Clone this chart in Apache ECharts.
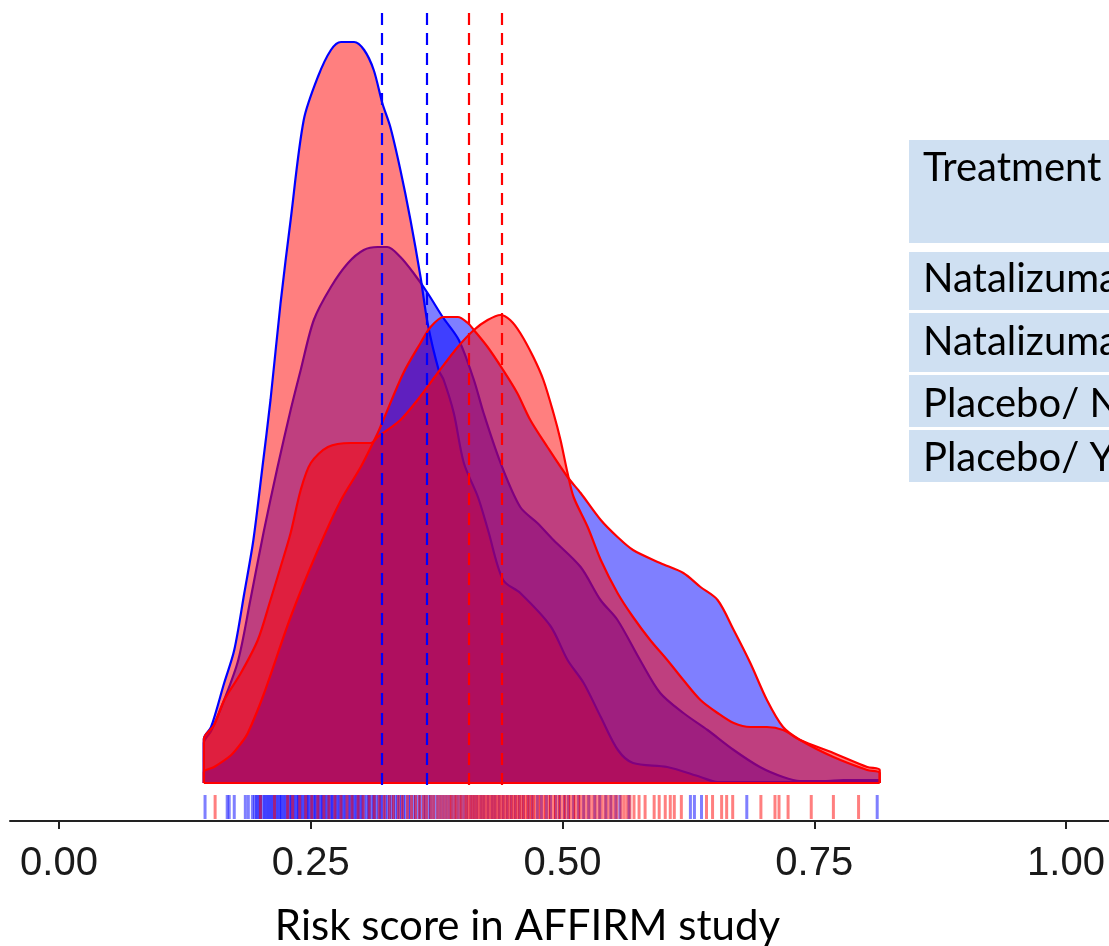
<!DOCTYPE html>
<html>
<head>
<meta charset="utf-8">
<script src="https://cdn.jsdelivr.net/npm/echarts@6/dist/echarts.min.js"></script>
<style>
  html, body { margin: 0; padding: 0; background: #fff; }
  #chart { width: 1109px; height: 946px; }
</style>
</head>
<body>
<div id="chart"></div>
<script>
(function() {
  const chart = echarts.init(document.getElementById('chart'));

  const xTicks = [0, 0.25, 0.5, 0.75, 1];

  // density curves [risk score, density]
  // red fill, blue outline (tall peak)
  const dens1 = [
    [0.1438, 0], [0.1438, 0.44], [0.151, 0.56], [0.164, 1.00], [0.174, 1.33], [0.184, 1.90],
    [0.193, 2.43], [0.202, 3.16], [0.210, 3.83], [0.220, 4.80], [0.230, 5.63], [0.243, 6.63],
    [0.257, 7.06], [0.270, 7.33], [0.280, 7.41], [0.293, 7.41], [0.303, 7.33], [0.3125, 7.13],
    [0.321, 6.80], [0.329, 6.56], [0.339, 6.13], [0.349, 5.63], [0.359, 5.06], [0.366, 4.60],
    [0.377, 4.13], [0.382, 4.03], [0.392, 3.70], [0.402, 3.20], [0.416, 2.86], [0.426, 2.53],
    [0.441, 2.03], [0.458, 1.90], [0.488, 1.57], [0.505, 1.23], [0.521, 1.00], [0.538, 0.66],
    [0.555, 0.33], [0.570, 0.20], [0.604, 0.16], [0.637, 0.06], [0.654, 0.01], [0.815, 0.01],
    [0.815, 0]
  ];
  // blue fill, blue outline
  const dens2 = [
    [0.1438, 0], [0.1438, 0.40], [0.151, 0.52], [0.164, 0.83], [0.178, 1.23], [0.190, 1.83],
    [0.203, 2.50], [0.217, 3.16], [0.230, 3.73], [0.240, 4.13], [0.253, 4.63], [0.270, 4.96],
    [0.287, 5.20], [0.3026, 5.33], [0.3165, 5.36], [0.326, 5.36], [0.339, 5.26], [0.352, 5.10],
    [0.366, 4.90], [0.381, 4.66], [0.397, 4.43], [0.412, 4.03], [0.4216, 3.70], [0.4385, 3.20],
    [0.458, 2.76], [0.475, 2.60], [0.491, 2.43], [0.518, 2.16], [0.5377, 1.83], [0.5546, 1.63],
    [0.577, 1.23], [0.597, 0.90], [0.620, 0.70], [0.644, 0.53], [0.670, 0.33], [0.696, 0.16],
    [0.719, 0.06], [0.736, 0.02], [0.760, 0.02], [0.779, 0.03], [0.815, 0.03], [0.815, 0]
  ];
  // blue fill, red outline (long right shoulder)
  const dens3 = [
    [0.1438, 0], [0.1438, 0.11], [0.154, 0.16], [0.171, 0.28], [0.181, 0.40], [0.1875, 0.50],
    [0.203, 0.88], [0.230, 1.66], [0.257, 2.33], [0.280, 2.83], [0.2996, 3.16], [0.3165, 3.50],
    [0.322, 3.63], [0.342, 4.10], [0.359, 4.40], [0.369, 4.56], [0.382, 4.66], [0.396, 4.66],
    [0.406, 4.60], [0.412, 4.53], [0.4256, 4.36], [0.441, 4.13], [0.455, 3.90], [0.468, 3.63],
    [0.485, 3.36], [0.505, 3.06], [0.518, 2.90], [0.538, 2.63], [0.5546, 2.46], [0.570, 2.33],
    [0.597, 2.20], [0.620, 2.10], [0.637, 1.96], [0.654, 1.83], [0.670, 1.53], [0.6865, 1.20],
    [0.703, 0.83], [0.719, 0.56], [0.736, 0.43], [0.769, 0.26], [0.8026, 0.13], [0.815, 0.10],
    [0.815, 0]
  ];
  // red fill, red outline (flat shoulder on the left)
  const dens4 = [
    [0.1438, 0], [0.1438, 0.44], [0.154, 0.58], [0.164, 0.83], [0.1806, 1.10], [0.1974, 1.43],
    [0.210, 1.83], [0.220, 2.16], [0.230, 2.50], [0.240, 2.93], [0.250, 3.20], [0.267, 3.36],
    [0.2897, 3.40], [0.3095, 3.40], [0.3165, 3.46], [0.339, 3.63], [0.356, 3.83], [0.376, 4.10],
    [0.396, 4.36], [0.412, 4.53], [0.4256, 4.63], [0.4385, 4.68], [0.448, 4.63], [0.458, 4.50],
    [0.471, 4.26], [0.481, 4.03], [0.491, 3.70], [0.498, 3.43], [0.505, 3.10], [0.511, 2.86],
    [0.525, 2.56], [0.538, 2.23], [0.5546, 1.90], [0.570, 1.66], [0.587, 1.43], [0.604, 1.23],
    [0.620, 1.03], [0.637, 0.83], [0.654, 0.70], [0.670, 0.60], [0.6865, 0.56], [0.703, 0.56],
    [0.719, 0.53], [0.736, 0.43], [0.769, 0.30], [0.8026, 0.16], [0.815, 0.13], [0.815, 0]
  ];
  const densRange = [0.1438, 0.815];

  // dashed reference lines
  const blueMeans = [0.3205, 0.365];
  const redMeans = [0.4065, 0.4396];

  // rug marks
  const blueRug = [
    0.145, 0.167, 0.169, 0.174, 0.185, 0.188, 0.192, 0.194, 0.196, 0.197, 0.199, 0.2, 0.202,
    0.204, 0.205, 0.207, 0.208, 0.21, 0.211, 0.213, 0.214, 0.216, 0.217, 0.219, 0.22, 0.221,
    0.223, 0.224, 0.226, 0.227, 0.229, 0.23, 0.231, 0.233, 0.234, 0.236, 0.237, 0.238, 0.24,
    0.241, 0.243, 0.244, 0.246, 0.247, 0.248, 0.25, 0.251, 0.253, 0.254, 0.255, 0.257, 0.258,
    0.26, 0.261, 0.262, 0.264, 0.265, 0.267, 0.268, 0.27, 0.271, 0.272, 0.274, 0.275, 0.277,
    0.278, 0.28, 0.281, 0.283, 0.284, 0.286, 0.288, 0.289, 0.291, 0.292, 0.294, 0.295, 0.297,
    0.298, 0.3, 0.301, 0.303, 0.305, 0.307, 0.308, 0.31, 0.312, 0.313, 0.315, 0.317, 0.319,
    0.32, 0.322, 0.324, 0.326, 0.328, 0.33, 0.332, 0.334, 0.336, 0.338, 0.34, 0.342, 0.344,
    0.347, 0.349, 0.352, 0.354, 0.357, 0.359, 0.362, 0.364, 0.367, 0.369, 0.372, 0.375, 0.378,
    0.381, 0.384, 0.387, 0.39, 0.393, 0.396, 0.399, 0.402, 0.405, 0.409, 0.412, 0.415, 0.419,
    0.422, 0.426, 0.43, 0.433, 0.437, 0.441, 0.445, 0.449, 0.453, 0.457, 0.461, 0.466, 0.47,
    0.475, 0.479, 0.484, 0.488, 0.493, 0.497, 0.502, 0.506, 0.511, 0.516, 0.521, 0.526, 0.532,
    0.537, 0.543, 0.548, 0.553, 0.557, 0.566, 0.627, 0.631, 0.638, 0.683, 0.8125
  ];
  const redRug = [
    0.155, 0.2, 0.214, 0.227, 0.232, 0.239, 0.245, 0.251, 0.257, 0.263, 0.268, 0.274, 0.28,
    0.286, 0.291, 0.297, 0.302, 0.308, 0.313, 0.318, 0.323, 0.328, 0.332, 0.337, 0.341, 0.346,
    0.35, 0.354, 0.358, 0.362, 0.365, 0.369, 0.372, 0.376, 0.379, 0.382, 0.385, 0.388, 0.39,
    0.393, 0.395, 0.398, 0.4, 0.403, 0.405, 0.407, 0.409, 0.411, 0.413, 0.415, 0.417, 0.419,
    0.421, 0.423, 0.425, 0.427, 0.429, 0.431, 0.433, 0.435, 0.437, 0.439, 0.441, 0.443, 0.445,
    0.447, 0.449, 0.451, 0.453, 0.455, 0.457, 0.459, 0.461, 0.463, 0.465, 0.467, 0.469, 0.471,
    0.473, 0.476, 0.478, 0.481, 0.483, 0.486, 0.488, 0.491, 0.493, 0.496, 0.498, 0.501, 0.503,
    0.506, 0.508, 0.511, 0.513, 0.516, 0.518, 0.521, 0.524, 0.527, 0.53, 0.533, 0.536, 0.539,
    0.542, 0.545, 0.548, 0.551, 0.554, 0.558, 0.561, 0.564, 0.567, 0.571, 0.576, 0.582, 0.591,
    0.596, 0.602, 0.607, 0.611, 0.618, 0.643, 0.649, 0.658, 0.663, 0.669, 0.697, 0.711, 0.715,
    0.724, 0.747, 0.769, 0.794
  ];

  const tableRows = ['Natalizumab/ N', 'Natalizumab/ Y', 'Placebo/ N', 'Placebo/ Y'];

  const RED = 'rgba(255,0,0,0.5)';
  const BLUE = 'rgba(0,0,255,0.5)';
  const rugY = -0.24;

  function densitySeries(data, fill, stroke, z) {
    return {
      type: 'line',
      data: data,
      z: z,
      symbol: 'none',
      silent: true,
      smooth: 0.3,
      lineStyle: { color: stroke, width: 2.2 },
      areaStyle: { color: fill, opacity: 1 }
    };
  }

  function rugSeries(values, color, z) {
    return {
      type: 'scatter',
      silent: true,
      z: z,
      symbol: 'rect',
      symbolSize: [3, 24],
      itemStyle: { color: color, opacity: 1 },
      data: values.map(v => [v, rugY])
    };
  }

  function meanLines(values, color) {
    return values.map(v => [
      { coord: [v, 7.70], lineStyle: { color: color } },
      { coord: [v, -0.04] }
    ]);
  }

  // table cells on the right
  const cellTops = [140, 252, 313, 375, 430];
  const cellHeights = [103, 58, 59, 52, 52];
  const textMid = [168, 279, 342, 404, 458];
  const graphics = [];
  ['Treatment'].concat(tableRows).forEach(function(label, i) {
    graphics.push({
      type: 'rect',
      silent: true,
      shape: { x: 909, y: cellTops[i], width: 220, height: cellHeights[i] },
      style: { fill: '#cfe0f2' }
    });
    graphics.push({
      type: 'text',
      silent: true,
      x: 923,
      y: textMid[i],
      style: {
        text: label,
        font: '40px Lato',
        fill: '#000',
        verticalAlign: 'middle'
      }
    });
  });

  const option = {
    animation: false,
    backgroundColor: '#fff',
    grid: { left: 10, right: 0, top: 0, bottom: 125, outerBoundsMode: 'none' },
    xAxis: {
      type: 'value',
      min: -0.0487,
      max: 1.0427,
      splitLine: { show: false },
      axisLine: { onZero: false, lineStyle: { color: '#222', width: 2 } },
      axisTick: { customValues: xTicks, length: 8, lineStyle: { color: '#222', width: 2 } },
      axisLabel: {
        customValues: xTicks,
        formatter: v => v.toFixed(2),
        margin: 23,
        fontFamily: 'Liberation Sans',
        fontSize: 40,
        color: '#1a1a1a'
      },
      name: 'Risk score in AFFIRM study',
      nameLocation: 'middle',
      nameGap: 84,
      nameTextStyle: {
        fontFamily: 'Lato',
        fontSize: 42,
        color: '#000',
        padding: [0, 64, 0, 0]
      }
    },
    yAxis: {
      type: 'value',
      show: false,
      min: -0.38,
      max: 7.83
    },
    graphic: graphics,
    series: [
      densitySeries(dens2, BLUE, '#0000ff', 2),
      densitySeries(dens1, RED, '#0000ff', 3),
      densitySeries(dens3, BLUE, '#ff0000', 4),
      densitySeries(dens4, RED, '#ff0000', 5),
      {
        type: 'line',
        silent: true,
        z: 6,
        symbol: 'none',
        data: densRange.map(v => [v, 0]),
        lineStyle: { color: '#ff0000', width: 2.2 }
      },
      rugSeries(blueRug, BLUE, 6),
      rugSeries(redRug, RED, 7),
      {
        type: 'line',
        data: [],
        z: 8,
        markLine: {
          z: 10,
          silent: true,
          symbol: ['none', 'none'],
          label: { show: false },
          lineStyle: { type: [12, 8], width: 2.2 },
          data: meanLines(blueMeans, '#0000ff').concat(meanLines(redMeans, '#ff0000'))
        }
      }
    ]
  };

  chart.setOption(option);
}());
</script>
</body>
</html>
